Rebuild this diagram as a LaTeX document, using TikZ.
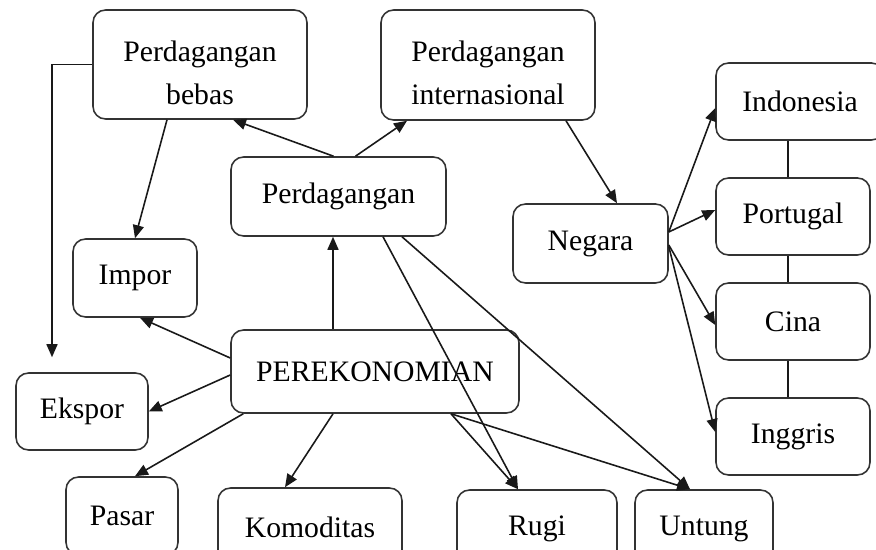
\documentclass[tikz,border=0pt]{standalone}
\usepackage{fontspec}
\setmainfont{Liberation Serif}
\usetikzlibrary{calc,positioning,arrows.meta}

\begin{document}
\begin{tikzpicture}[x=0.02cm,y=-0.02cm,
      box/.style={draw=black!80, line width=0.9pt, rounded corners=0.25cm,
         align=center, inner sep=2pt, font=\fontsize{16.9}{24.5}\selectfont},
      arr/.style={draw=black!90, line width=0.9pt,
         -{Triangle[length=0.26cm,width=0.22cm]}},
      ln/.style={draw=black!90, line width=0.9pt}]
   \useasboundingbox (0,0) rectangle (876,550);
   % boxes
   \node[box, minimum width=4.28cm, minimum height=2.18cm] (bebas) at (200,64.5) {\rule{0pt}{21pt}Perdagangan\\bebas};
   \node[box, minimum width=4.28cm, minimum height=2.2cm] (intl) at (488,65) {\rule{0pt}{21pt}Perdagangan\\internasional};
   \node[box, minimum width=4.3cm, minimum height=1.58cm] (perd) at (338.5,196.5) {Perdagangan};
   \node[box, minimum width=2.48cm, minimum height=1.56cm] (impor) at (135,278) {Impor};
   \node[box, minimum width=5.76cm, minimum height=1.66cm] (ekon) at (375,371.5) {PEREKONOMIAN};
   \node[box, minimum width=2.64cm, minimum height=1.54cm] (ekspor) at (82,411.5) {Ekspor};
   \node[box, minimum width=2.24cm, minimum height=1.56cm] (pasar) at (122,516) {Pasar};
   \node[box, minimum width=3.68cm, minimum height=1.56cm] (komod) at (310,527) {Komoditas};
   \node[box, minimum width=3.2cm, minimum height=1.56cm] (rugi) at (537,529) {Rugi};
   \node[box, minimum width=2.76cm, minimum height=1.56cm] (untung) at (704,529) {Untung};
   \node[box, minimum width=3.1cm, minimum height=1.58cm] (negara) at (590.5,243.5) {Negara};
   \node[box, minimum width=3.36cm, minimum height=1.54cm] (indo) at (800,101.5) {Indonesia};
   \node[box, minimum width=3.08cm, minimum height=1.54cm] (portu) at (793,216.5) {Portugal};
   \node[box, minimum width=3.08cm, minimum height=1.54cm] (cina) at (793,321.5) {Cina};
   \node[box, minimum width=3.08cm, minimum height=1.54cm] (inggris) at (793,436.5) {Inggris};

   % perdagangan bebas
   \draw[arr] (bebas.west) -| ($(ekspor.north)+(-30,-15)$);
   \draw[arr] ($(bebas.south)+(-33,0)$) -- (impor.north);
   \draw[arr] ($(perd.north)+(-5,0)$) -- ($(bebas.south)+(33,0)$);
   \draw[arr] ($(perd.north)+(17,0)$) -- ($(intl.south)+(-81,0)$);
   % perekonomian
   \draw[arr] ($(ekon.north)+(-42,0)$) coordinate (up) -- (up |- perd.south);
   \draw[arr] ($(ekon.west)+(0,-13.5)$) -- ($(impor.south)+(5,0)$);
   \draw[arr] ($(ekon.west)+(0,3.5)$) -- (ekspor.east);
   \draw[arr] ($(ekon.south west)+(13,0)$) -- ($(pasar.north)+(13,0)$);
   \draw[arr] ($(ekon.south)+(-42,0)$) -- ($(komod.north)+(-25,0)$);
   \draw[arr] ($(ekon.south)+(76,0)$) -- ($(rugi.north)+(-19,0)$);
   \draw[arr] ($(ekon.south)+(76,0)$) -- ($(untung.north)+(-14,0)$);
   \draw[arr] ($(perd.south)+(44.5,0)$) -- ($(rugi.north)+(-19,0)$);
   \draw[arr] ($(perd.south)+(63.5,0)$) -- ($(untung.north)+(-14,0)$);
   % negara
   \draw[arr] ($(intl.south)+(78,0)$) -- ($(negara.north)+(26.5,0)$);
   \draw[arr] ($(negara.east)+(0,-11.5)$) -- ($(indo.west)+(0,6.5)$);
   \draw[arr] ($(negara.east)+(0,-11.5)$) -- ($(portu.west)+(0,-6.5)$);
   \draw[arr] ($(negara.east)+(0,1.5)$) -- ($(cina.west)+(0,3.5)$);
   \draw[arr] ($(negara.east)+(0,3)$) -- ($(inggris.west)+(0,-4.5)$);
   \draw[ln] ($(portu.north)+(-5,0)$) coordinate (c1) -- (c1 |- indo.south);
   \draw[ln] ($(cina.north)+(-5,0)$) coordinate (c2) -- (c2 |- portu.south);
   \draw[ln] ($(inggris.north)+(-5,0)$) coordinate (c3) -- (c3 |- cina.south);
\end{tikzpicture}
\end{document}
